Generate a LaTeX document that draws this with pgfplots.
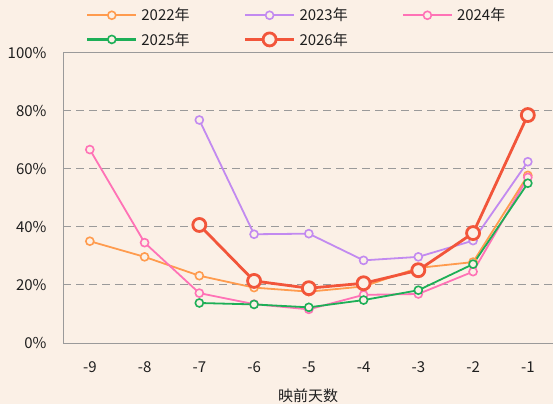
\documentclass[border=0pt]{standalone}
\usepackage{pgfplots}
\pgfplotsset{compat=1.18}
\usepackage{fontspec}
\setmainfont{Noto Sans CJK SC}
\definecolor{bg}{HTML}{FBF0E6}
\definecolor{c22}{HTML}{FF9B4E}
\definecolor{c23}{HTML}{C28AF0}
\definecolor{c24}{HTML}{FF72B6}
\definecolor{c25}{HTML}{1DAF57}
\definecolor{c26}{HTML}{F2553A}
\definecolor{ax}{HTML}{9A9A9A}
\begin{document}
\begin{tikzpicture}[x=1pt,y=1pt]
\fill[bg] (0,0) rectangle (553,404);
\useasboundingbox (0,0) rectangle (553,404);
\begin{axis}[
  at={(63pt,61pt)}, anchor=south west,
  scale only axis, width=490pt, height=290pt,
  xmin=-9.49, xmax=-0.54, ymin=0, ymax=100,
  xtick={-9,-8,-7,-6,-5,-4,-3,-2,-1},
  ytick={0,20,40,60,80,100},
  yticklabel={\pgfmathprintnumber{\tick}\%},
  /pgf/number format/assume math mode=true,
  axis x line*=bottom, axis y line*=left,
  axis line style={ax, line width=1pt, -},
  major tick length=0pt,
  ticklabel style={font=\fontsize{15}{17}\selectfont, text=black!88},
  xticklabel style={yshift=-15pt},
  yticklabel style={xshift=-13pt},
  ymajorgrids, grid style={ax, line width=1pt, dash pattern=on 8pt off 5pt},
  xlabel={映前天数}, xlabel style={font=\fontsize{15}{17}\selectfont, text=black!88, yshift=-9pt},
  extra description/.code={\draw[ax, line width=1pt] (rel axis cs:0,1) -- (rel axis cs:1,1);},
  legend image code/.code={\draw[#1, mark repeat=2, mark phase=2] plot coordinates {(0pt,0pt) (24.5pt,0pt) (49pt,0pt)};},
  legend columns=3,
  legend style={draw=none, fill=none, at={(20pt,339pt)}, anchor=north west,
    font=\fontsize{15}{17}\selectfont, text=black!88, row sep=6pt,
    /tikz/every odd column/.append style={column sep=2pt},
    /tikz/every even column/.append style={column sep=52pt}},
  legend cell align=left,
  clip=false,
]
\addlegendimage{c22, line width=2.2pt, mark=*, mark size=4pt, mark options={draw=c22, fill=bg, line width=1.6pt}}
\addlegendentry{2022年}
\addlegendimage{c23, line width=2.2pt, mark=*, mark size=4pt, mark options={draw=c23, fill=bg, line width=1.6pt}}
\addlegendentry{2023年}
\addlegendimage{c24, line width=2.2pt, mark=*, mark size=4pt, mark options={draw=c24, fill=bg, line width=1.6pt}}
\addlegendentry{2024年}
\addlegendimage{c25, line width=2.2pt, mark=*, mark size=4pt, mark options={draw=c25, fill=bg, line width=1.6pt}}
\addlegendentry{2025年}
\addlegendimage{c26, line width=2.8pt, mark=*, mark size=6.5pt, mark options={draw=c26, fill=bg, line width=2.8pt}}
\addlegendentry{2026年}
\addplot[forget plot, c22, line width=1.8pt, mark=*, mark size=4pt, mark options={draw=c22, fill=bg, line width=1.6pt}] coordinates {(-9,35.1) (-8,29.7) (-7,23.2) (-6,19.1) (-5,17.7) (-4,19.5) (-3,25.9) (-2,27.9) (-1,57.8)};
\addplot[forget plot, c23, line width=1.8pt, mark=*, mark size=4pt, mark options={draw=c23, fill=bg, line width=1.6pt}] coordinates {(-7,76.9) (-6,37.5) (-5,37.7) (-4,28.5) (-3,29.7) (-2,35.3) (-1,62.5)};
\addplot[forget plot, c24, line width=1.8pt, mark=*, mark size=4pt, mark options={draw=c24, fill=bg, line width=1.6pt}] coordinates {(-9,66.7) (-8,34.6) (-7,17.2) (-6,13.4) (-5,11.6) (-4,16.6) (-3,16.9) (-2,24.6) (-1,57.1)};
\addplot[forget plot, c25, line width=1.8pt, mark=*, mark size=4pt, mark options={draw=c25, fill=bg, line width=1.6pt}] coordinates {(-7,13.8) (-6,13.3) (-5,12.3) (-4,14.8) (-3,18.2) (-2,27.2) (-1,55.1)};
\addplot[forget plot, c26, line width=2.8pt, mark=*, mark size=6.5pt, mark options={draw=c26, fill=bg, line width=2.8pt}] coordinates {(-7,40.7) (-6,21.4) (-5,18.9) (-4,20.6) (-3,25.1) (-2,37.9) (-1,78.6)};
\end{axis}
\end{tikzpicture}
\end{document}
